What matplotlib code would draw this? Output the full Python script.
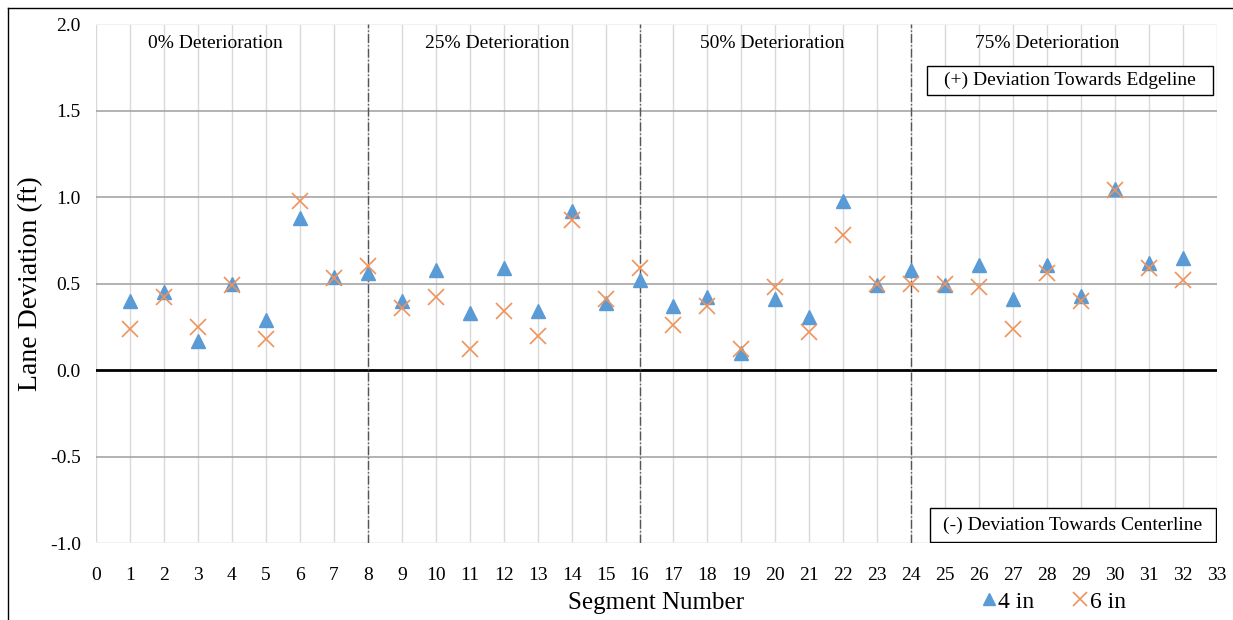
import matplotlib.pyplot as plt
from matplotlib.lines import Line2D
from matplotlib.patches import Rectangle

plt.rcParams['font.family'] = ['Liberation Serif', 'DejaVu Serif']

segments = list(range(1, 33))
dev_4in = [0.40, 0.45, 0.17, 0.50, 0.29, 0.88, 0.54, 0.56,
           0.40, 0.58, 0.33, 0.59, 0.34, 0.92, 0.39, 0.52,
           0.37, 0.42, 0.10, 0.41, 0.31, 0.98, 0.49, 0.58,
           0.49, 0.61, 0.41, 0.61, 0.43, 1.05, 0.62, 0.65]
dev_6in = [0.24, 0.42, 0.25, 0.49, 0.18, 0.98, 0.53, 0.60,
           0.36, 0.42, 0.12, 0.34, 0.20, 0.87, 0.41, 0.59,
           0.26, 0.37, 0.12, 0.48, 0.22, 0.78, 0.50, 0.50,
           0.50, 0.48, 0.24, 0.56, 0.40, 1.04, 0.59, 0.52]
section_bounds = [8, 16, 24]
section_labels = ['0% Deterioration', '25% Deterioration', '50% Deterioration', '75% Deterioration']
section_x = [3.5, 11.8, 19.9, 28.0]

fig = plt.figure(figsize=(12.33, 6.2), dpi=100)
ax = fig.add_axes([0.0779, 0.124, 0.9091, 0.837])

# grid like the excel original
for x in range(0, 34):
    ax.axvline(x, color='#d9d9d9', lw=1, zorder=0)
for y in [-0.5, 0.5, 1.0, 1.5]:
    ax.axhline(y, color='#a6a6a6', lw=1.2, zorder=0)
for y in [-1.0, 2.0]:
    ax.axhline(y, color='#eef2f7', lw=1.5, zorder=0)
ax.axhline(0, color='black', lw=2, zorder=1)
for b in section_bounds:
    ax.axvline(b, color='#555555', lw=1, ls='-.', zorder=1)

ax.plot(segments, dev_4in, ls='none', marker='^', ms=10, color='#5b9bd5', label='4 in', zorder=3)
ax.plot(segments, dev_6in, ls='none', marker='x', ms=11, mew=1.2, color='#f0935a', label='6 in', zorder=4)

for lbl, x in zip(section_labels, section_x):
    ax.text(x, 1.89, lbl, ha='center', va='center', fontsize=14)

# annotation boxes
ax.add_patch(Rectangle((24.46, 1.59), 8.42, 0.167, fc='white', ec='black', lw=1, zorder=5))
ax.text(28.67, 1.674, '(+) Deviation Towards Edgeline', ha='center', va='center', fontsize=14, zorder=6)
ax.add_patch(Rectangle((24.55, -0.994), 8.42, 0.196, fc='white', ec='black', lw=1, zorder=5))
ax.text(28.76, -0.896, '(-) Deviation Towards Centerline', ha='center', va='center', fontsize=14, zorder=6)

ax.set_xlim(0, 33)
ax.set_ylim(-1.0, 2.0)
ax.set_xticks(range(0, 34))
ax.set_yticks([-1.0, -0.5, 0.0, 0.5, 1.0, 1.5, 2.0])
ax.set_yticklabels([f'{v:.1f}' for v in [-1.0, -0.5, 0.0, 0.5, 1.0, 1.5, 2.0]])
ax.tick_params(length=0, labelsize=14)
ax.tick_params(axis='x', pad=17)
ax.tick_params(axis='y', pad=11)
for s in ax.spines.values():
    s.set_visible(False)

ax.set_xlabel('Segment Number', fontsize=18, labelpad=6)
ax.set_ylabel('Lane Deviation (ft)', fontsize=20)
ax.yaxis.set_label_coords(-0.047, 0.5)

ax.legend(loc='lower left', bbox_to_anchor=(0.77, -0.175), ncol=2, frameon=False,
          fontsize=17, handlelength=0.7, handletextpad=0.05, columnspacing=1.6,
          markerscale=0.9)

fig.add_artist(Line2D([8 / 1233, 1], [1 - 8 / 620, 1 - 8 / 620], color='black', lw=1))
fig.add_artist(Line2D([8 / 1233, 8 / 1233], [0, 1 - 8 / 620], color='black', lw=1))

fig.savefig('out.png', dpi=100)
